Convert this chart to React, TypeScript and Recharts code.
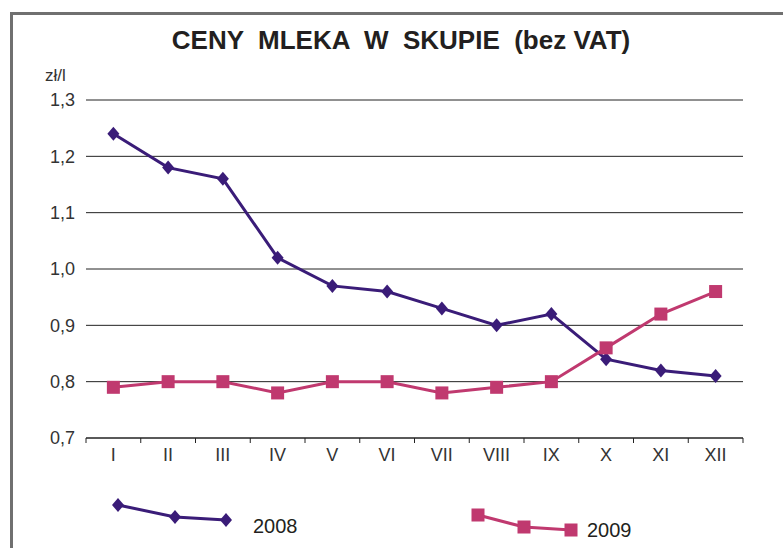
import { LineChart, Line, XAxis, YAxis, CartesianGrid } from "recharts";

const MONTHS = ["I", "II", "III", "IV", "V", "VI", "VII", "VIII", "IX", "X", "XI", "XII"];
const PRICES_2008 = [1.24, 1.18, 1.16, 1.02, 0.97, 0.96, 0.93, 0.9, 0.92, 0.84, 0.82, 0.81];
const PRICES_2009 = [0.79, 0.8, 0.8, 0.78, 0.8, 0.8, 0.78, 0.79, 0.8, 0.86, 0.92, 0.96];
const Y_TICKS = [0.7, 0.8, 0.9, 1.0, 1.1, 1.2, 1.3];
const SERIES = [
  { key: "y2008", name: "2008", color: "#3a1c78", shape: "diamond" },
  { key: "y2009", name: "2009", color: "#c0396f", shape: "square" },
];

const W = 783;
const H = 548;
const MARGIN = { top: 100, right: 40, bottom: 80, left: 0 };
const Y_WIDTH = 86;
const BAND = (W - MARGIN.right - Y_WIDTH) / MONTHS.length;
const FONT = "'Liberation Sans', Arial, sans-serif";

const data = MONTHS.map((m, i) => ({
  month: m,
  y2008: PRICES_2008[i],
  y2009: PRICES_2009[i],
}));

function Diamond(props: any) {
  const { cx, cy, fill } = props;
  if (cx == null || cy == null) return null;
  return <polygon points={`${cx},${cy - 7} ${cx + 6},${cy} ${cx},${cy + 7} ${cx - 6},${cy}`} fill={fill} />;
}

function Square(props: any) {
  const { cx, cy, fill } = props;
  if (cx == null || cy == null) return null;
  return <rect x={cx - 6.5} y={cy - 6.5} width={13} height={13} fill={fill} />;
}

function MonthTick(props: any) {
  const { x, y, payload, index } = props;
  const axisY = y - 10;
  return (
    <g>
      {index === 0 && <line x1={x - BAND / 2} x2={x - BAND / 2} y1={axisY} y2={axisY + 5} stroke="#222" />}
      <line x1={x + BAND / 2} x2={x + BAND / 2} y1={axisY} y2={axisY + 5} stroke="#222" />
      <text x={x} y={y} dy="0.71em" textAnchor="middle" fill="#333" fontSize={18} fontFamily={FONT}>
        {payload.value}
      </text>
    </g>
  );
}

function LegendMark({ shape, color, pts }: { shape: string; color: string; pts: number[][] }) {
  return (
    <g>
      <polyline points={pts.map((p) => p.join(",")).join(" ")} fill="none" stroke={color} strokeWidth={3} />
      {pts.map(([cx, cy], i) =>
        shape === "diamond" ? (
          <Diamond key={i} cx={cx} cy={cy} fill={color} />
        ) : (
          <Square key={i} cx={cx} cy={cy} fill={color} />
        )
      )}
    </g>
  );
}

export default function App() {
  return (
    <div style={{ position: "absolute", left: 0, top: 0, width: W, height: H, background: "#fff", overflow: "hidden" }}>
      <div
        style={{
          position: "absolute",
          left: 10,
          top: 12,
          width: W,
          height: H,
          borderTop: "3px solid #707070",
          borderLeft: "3px solid #707070",
        }}
      />
      <div
        style={{
          position: "absolute",
          left: 0,
          width: 802,
          top: 25,
          textAlign: "center",
          fontFamily: FONT,
          fontWeight: "bold",
          fontSize: 26,
          color: "#231f20",
          whiteSpace: "pre",
        }}
      >
        {"CENY  MLEKA  W  SKUPIE  (bez VAT)"}
      </div>
      <div style={{ position: "absolute", left: 45, top: 66, fontFamily: FONT, fontSize: 17, color: "#333" }}>zł/l</div>
      <div style={{ position: "absolute", left: 0, top: 0 }}>
        <LineChart width={W} height={H} data={data} margin={MARGIN}>
          <CartesianGrid vertical={false} stroke="#222" />
          <XAxis
            dataKey="month"
            height={30}
            padding={{ left: BAND / 2, right: BAND / 2 }}
            axisLine={{ stroke: "#222" }}
            tickLine={false}
            tickSize={6}
            tickMargin={4}
            interval={0}
            tick={<MonthTick />}
          />
          <YAxis
            width={Y_WIDTH}
            domain={[0.7, 1.3]}
            ticks={Y_TICKS}
            axisLine={false}
            tickLine={false}
            tickMargin={5}
            tick={{ fill: "#333", fontSize: 18, fontFamily: FONT }}
            tickFormatter={(v: number) => v.toFixed(1).replace(".", ",")}
          />
          {SERIES.map((s) => (
            <Line
              key={s.key}
              dataKey={s.key}
              name={s.name}
              stroke={s.color}
              strokeWidth={3}
              fill={s.color}
              dot={s.shape === "diamond" ? <Diamond fill={s.color} /> : <Square fill={s.color} />}
              isAnimationActive={false}
            />
          ))}
        </LineChart>
      </div>
      <svg style={{ position: "absolute", left: 0, top: 0 }} width={W} height={H}>
        <LegendMark shape="diamond" color={SERIES[0].color} pts={[[118, 505], [175, 517], [226, 520]]} />
        <text x={253} y={533} fontFamily={FONT} fontSize={20} fill="#231f20">
          {SERIES[0].name}
        </text>
        <LegendMark shape="square" color={SERIES[1].color} pts={[[478, 515], [524, 527], [571, 530]]} />
        <text x={587} y={537} fontFamily={FONT} fontSize={20} fill="#231f20">
          {SERIES[1].name}
        </text>
      </svg>
    </div>
  );
}
